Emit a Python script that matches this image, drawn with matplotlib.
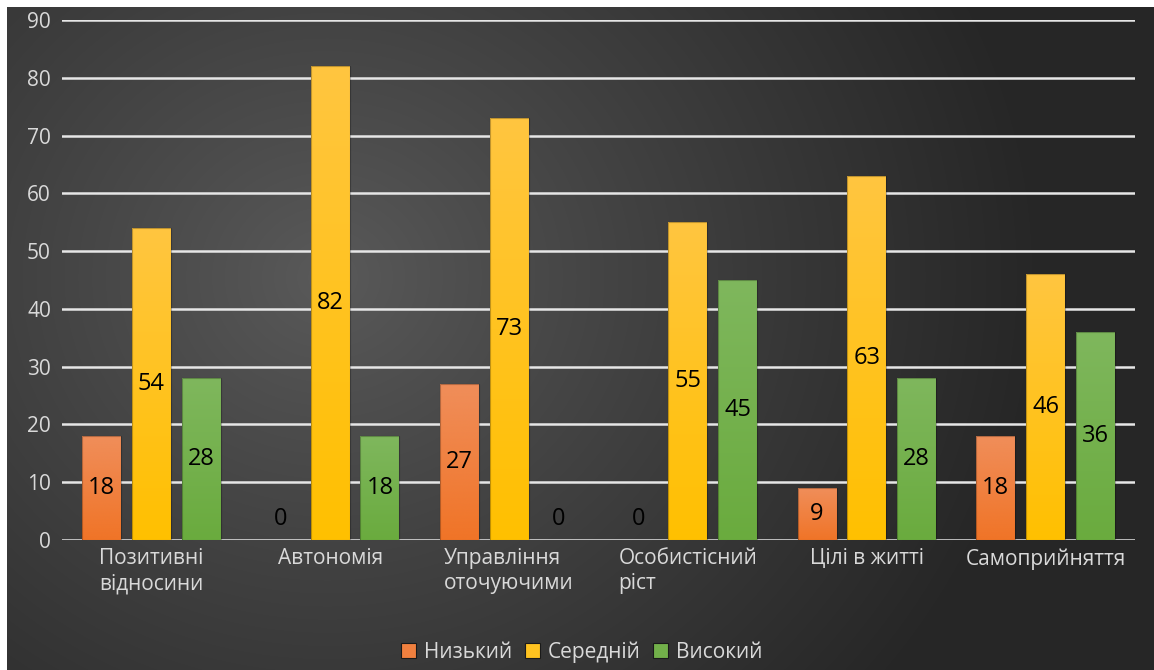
import numpy as np
import matplotlib
matplotlib.use("Agg")
import matplotlib.pyplot as plt
from matplotlib.colors import LinearSegmentedColormap
from matplotlib.patches import Patch

plt.rcParams['font.family'] = ['Open Sans', 'DejaVu Sans']

categories = ["Позитивні\nвідносини", "Автономія", "Управління\nоточуючими",
              "Особистісний\nріст", "Цілі в житті", "Самоприйняття"]
series_names = ["Низький", "Середній", "Високий"]
low = [18, 0, 27, 0, 9, 18]
mid = [54, 82, 73, 55, 63, 46]
high = [28, 18, 0, 45, 28, 36]
yticks = [0, 10, 20, 30, 40, 50, 60, 70, 80, 90]

series = [low, mid, high]
grad = [("#F07427", "#F08E5A"), ("#FFC000", "#FFC640"), ("#6AAB3E", "#7FB75D")]
legend_col = ["#F0803F", "#FFC320", "#72B04A"]

W, H = 1154, 670
fig = plt.figure(figsize=(W / 100, H / 100), dpi=100, facecolor="white")

# background with radial gradient
bg = fig.add_axes([7 / W, 0, (W - 7) / W, (H - 7) / H])
bg.set_axis_off()
bw, bh = W - 7, H - 7
yy, xx = np.mgrid[0:bh, 0:bw]
cx, cy = 320, 270
r = np.sqrt((xx - cx) ** 2 + ((yy - cy) * 1.1) ** 2)
t = np.clip(r / 720.0, 0, 1) ** 0.9
c0 = np.array([0x5A, 0x5A, 0x5A]) / 255
c1 = np.array([0x26, 0x26, 0x26]) / 255
img = c0[None, None, :] * (1 - t[..., None]) + c1[None, None, :] * t[..., None]
bg.imshow(img, aspect="auto", extent=[0, 1, 0, 1], origin="upper")
bg.set_xlim(0, 1)
bg.set_ylim(0, 1)

ax = fig.add_axes([62 / W, 1 - 540 / H, (1135 - 62) / W, (540 - 20) / H])
ax.patch.set_alpha(0)
for s in ax.spines.values():
    s.set_visible(False)

ax.set_ylim(0, 90)
ax.set_xlim(-0.5, len(categories) - 0.5)
ax.set_yticks(yticks)
ax.yaxis.grid(True, color="#E6E6E6", linewidth=1.8)
ax.set_axisbelow(True)
ax.tick_params(axis="both", length=0, colors="#D9D9D9", labelsize=15)
ax.tick_params(axis="y", pad=8)

x = np.arange(len(categories))
bwid = 0.218
offs = [-0.278, 0, 0.278]
for si, vals in enumerate(series):
    cmap = LinearSegmentedColormap.from_list("g%d" % si, [grad[si][0], grad[si][1]])
    bars = ax.bar(x + offs[si], vals, width=bwid, color="none", edgecolor="none", zorder=3)
    for b, v in zip(bars, vals):
        x0 = b.get_x()
        if v > 0:
            gimg = np.linspace(0, 1, 256).reshape(-1, 1)
            ax.imshow(gimg, cmap=cmap, origin="lower", aspect="auto",
                      extent=[x0, x0 + bwid, 0, v], zorder=3, interpolation="bicubic")
            ax.add_patch(plt.Rectangle((x0, 0), bwid, v, fill=False,
                                       edgecolor=(0, 0, 0, 0.25), linewidth=0.8, zorder=4))
            ax.text(x0 + bwid / 2, v / 2, str(v), ha="center", va="center",
                    fontsize=17, color="black", zorder=5)
        else:
            ax.annotate(str(v), (x0 + bwid / 2, 0), xytext=(0, 15), textcoords="offset points",
                        ha="center", va="center", fontsize=17, color="black", zorder=5)

ax.set_xlim(-0.5, len(categories) - 0.5)
ax.set_ylim(0, 90)
ax.set_xticks(x)
ax.set_xticklabels(categories, multialignment="left", linespacing=1.25)
ax.tick_params(axis="x", pad=6)

handles = [Patch(facecolor=legend_col[i], edgecolor="#1a1a1a", linewidth=0.8) for i in range(3)]
fig.legend(handles, series_names, loc="center", bbox_to_anchor=(582 / W, 1 - 652 / H),
           ncol=3, frameon=False, fontsize=15, labelcolor="#D9D9D9",
           handlelength=0.7, handleheight=0.7, handletextpad=0.4, columnspacing=0.6)

fig.savefig("out.png", dpi=100, facecolor="white")
